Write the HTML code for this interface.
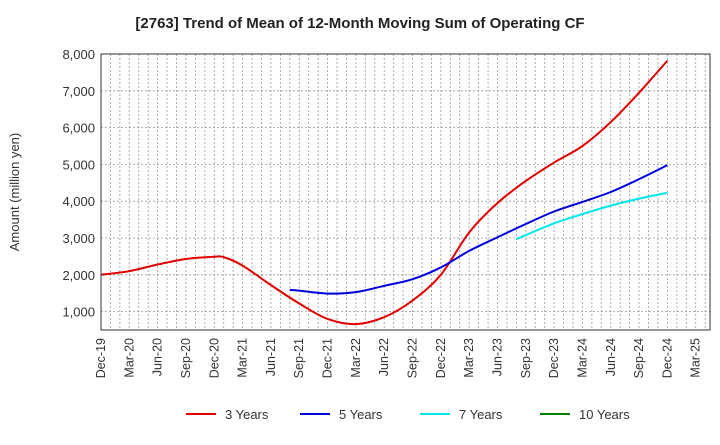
<!DOCTYPE html>
<html><head><meta charset="utf-8"><style>
body{margin:0;background:#fff;font-family:"Liberation Sans",sans-serif}
text{font-family:"Liberation Sans",sans-serif}
</style></head><body>
<svg id="c" width="720" height="440">
<text x="360" y="28" text-anchor="middle" font-size="15" font-weight="bold" fill="#222">[2763]  Trend of Mean of 12-Month Moving Sum of Operating CF</text>
<text transform="translate(19,192) rotate(-90)" text-anchor="middle" font-size="13" fill="#333">Amount (million yen)</text>
<g id="grid"></g><g id="series"></g><g id="axes"></g><g id="legend"></g>
</svg>
<script>
const xLabels=["Dec-19","Mar-20","Jun-20","Sep-20","Dec-20","Mar-21","Jun-21","Sep-21","Dec-21","Mar-22","Jun-22","Sep-22","Dec-22","Mar-23","Jun-23","Sep-23","Dec-23","Mar-24","Jun-24","Sep-24","Dec-24","Mar-25"];
const yTicks=[1000,2000,3000,4000,5000,6000,7000,8000];
const seriesNames=["3 Years","5 Years","7 Years","10 Years"];
const seriesColors=["#e00000","#0000dd","#00e5ee","#008000"];
// month index from Dec-19
const months3=[0,3,6,9,12,13,15,18,21,24,27,30,33,36,39,42,45,48,51,54,57,60];
const vals3=[2000,2100,2280,2430,2490,2480,2250,1720,1220,800,660,850,1300,2000,3150,3950,4550,5050,5500,6150,6950,7820];
const months5=[20,21,24,27,30,33,36,39,42,45,48,51,54,57,60];
const vals5=[1590,1570,1490,1530,1700,1880,2200,2650,3020,3380,3720,3980,4250,4600,4980];
const months7=[44,45,48,51,54,57,60];
const vals7=[2970,3080,3400,3650,3880,4070,4230];
const months10=[];const vals10=[];
const L=101,R=710,T=54,B=330,yMin=500,yMax=8000,mStep=9.44;
const X=m=>L+m*mStep, Y=v=>B-(v-yMin)/(yMax-yMin)*(B-T);
const NS="http://www.w3.org/2000/svg";
function mk(t,a,p){const e=document.createElementNS(NS,t);for(const k in a)e.setAttribute(k,a[k]);p.appendChild(e);return e;}
const g=document.getElementById('grid'),ax=document.getElementById('axes'),sg=document.getElementById('series'),lg=document.getElementById('legend');
for(let m=1;X(m)<R;m++){const l=mk('line',{x1:X(m),x2:X(m),y1:T,y2:B,stroke:'#999','stroke-dasharray':'2,2','stroke-width':0.8},g);

}
yTicks.forEach(v=>{const l=mk('line',{x1:L,x2:R,y1:Y(v),y2:Y(v),stroke:'#999','stroke-dasharray':'2,2','stroke-width':0.8},g);


const t=mk('text',{x:L-6,y:Y(v)+5,'text-anchor':'end','font-size':13,fill:'#333'},ax);t.textContent=v.toLocaleString('en-US');

});
const fr=mk('rect',{x:L,y:T,width:R-L,height:B-T,fill:'none',stroke:'#333','stroke-width':1},ax);


xLabels.forEach((s,i)=>{const x=X(i*3);const t=mk('text',{transform:`translate(${x+4},${B+8}) rotate(-90)`,'text-anchor':'end','font-size':12.5,fill:'#333'},ax);t.textContent=s;

});
function path(ms,vs){const p=ms.map((m,i)=>[X(m),Y(vs[i])]);if(p.length<2)return '';let d=`M${p[0][0]},${p[0][1]}`;
for(let i=0;i<p.length-1;i++){const p0=p[i-1]||p[i],p1=p[i],p2=p[i+1],p3=p[i+2]||p2;
d+=` C${p1[0]+(p2[0]-p0[0])/6},${p1[1]+(p2[1]-p0[1])/6} ${p2[0]-(p3[0]-p1[0])/6},${p2[1]-(p3[1]-p1[1])/6} ${p2[0]},${p2[1]}`;}return d;}
[[months3,vals3],[months5,vals5],[months7,vals7],[months10,vals10]].forEach(([m,v],i)=>{const d=path(m,v);if(!d)return;
const e=mk('path',{d,fill:'none',stroke:seriesColors[i],'stroke-width':2},sg);

});
const lx=[186,300,420,540];
seriesNames.forEach((n,i)=>{const l=mk('line',{x1:lx[i],x2:lx[i]+30,y1:414,y2:414,stroke:seriesColors[i],'stroke-width':2},lg);


const t=mk('text',{x:lx[i]+39,y:419,'font-size':13,fill:'#333'},lg);t.textContent=n;

});
</script>
</body></html>
